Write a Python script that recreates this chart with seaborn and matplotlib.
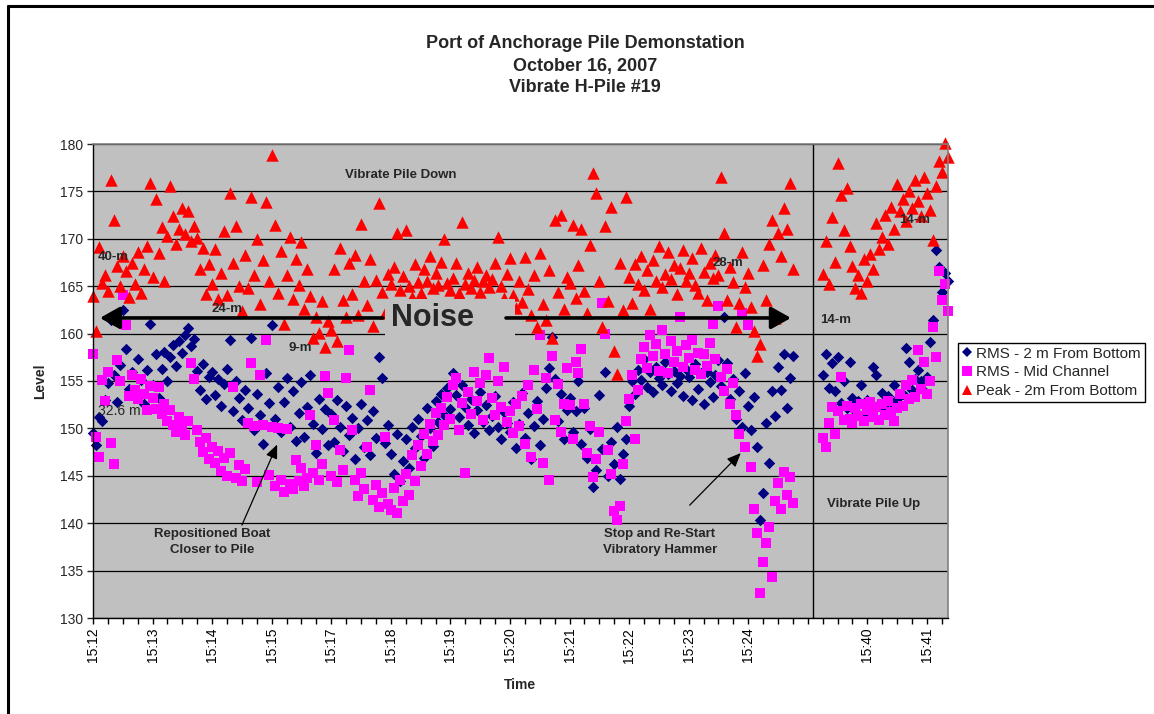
import numpy as np
import pandas as pd
import matplotlib
matplotlib.use("Agg")
import matplotlib.pyplot as plt
from matplotlib.patches import Rectangle
from matplotlib.lines import Line2D
import seaborn as sns

# ---------------------------------------------------------------------------
# Data: levels logged every 3 samples (sample index on a category-style axis)
# Main run 15:12-15:24 (pile driven down), short run 15:39-15:41 (pile pulled up)
# ---------------------------------------------------------------------------
peak_down = [
    164.0, 160.3, 169.1, 165.3, 166.2, 164.5, 176.2, 172.0, 167.1, 165.0, 168.2, 166.6, 163.9, 167.4, 165.2, 168.6, 164.3, 166.8, 169.2, 175.9,
    166.0, 174.2, 168.5, 171.2, 165.5, 170.3, 175.6, 172.4, 169.4, 171.0, 173.2, 170.5, 172.9, 169.8, 171.4, 170.1, 166.8, 169.0, 164.2, 167.3,
    165.2, 168.9, 163.6, 166.4, 170.8, 164.1, 174.8, 167.5, 171.3, 165.0, 162.4, 168.3, 164.8, 174.4, 166.2, 170.0, 163.1, 167.8, 173.9, 165.6,
    178.8, 171.5, 164.3, 168.7, 161.0, 166.2, 170.2, 163.7, 167.9, 165.1, 169.7, 162.6, 166.8, 164.0, 159.5, 161.8, 160.1, 163.4, 158.6, 161.3,
    160.4, 166.8, 159.2, 169.0, 163.5, 161.7, 167.4, 164.2, 168.3, 162.0, 171.6, 165.5, 163.0, 167.9, 160.8, 165.7, 173.8, 164.4, 162.2, 166.3,
    165.2, 167.0, 170.6, 164.6, 166.1, 170.9, 165.0, 163.9, 167.3, 165.4, 164.3, 166.8, 165.6, 168.2, 164.8, 166.4, 165.1, 167.6, 170.0, 165.3,
    164.6, 165.9, 167.5, 164.3, 171.8, 165.2, 166.4, 164.8, 165.7, 167.0, 164.4, 165.5, 166.2, 164.9, 165.8, 167.4, 170.2, 165.0, 163.8, 166.3,
    168.0, 164.1, 162.7, 165.6, 163.3, 168.1, 164.7, 162.0, 166.2, 160.7, 168.5, 163.1, 161.4, 166.7, 159.5, 172.0, 164.4, 172.5, 162.6, 166.0,
    165.3, 171.5, 163.8, 167.2, 171.0, 164.5, 162.2, 169.3, 176.9, 174.8, 165.6, 160.7, 171.4, 163.4, 173.4, 158.2, 155.7, 167.5, 162.5, 174.4,
    166.0, 163.2, 167.3, 165.2, 168.2, 164.6, 166.7, 162.6, 167.8, 165.5, 169.2, 164.9, 166.3, 168.6, 165.8, 167.2, 164.2, 166.9, 168.8, 165.6,
    166.4, 168.0, 165.1, 164.3, 169.0, 166.5, 163.5, 167.4, 165.9, 168.3, 166.2, 176.5, 170.6, 163.5, 167.0, 165.4, 160.7, 163.2, 168.6, 164.9,
    166.4, 162.8, 160.3, 157.6, 158.9, 167.2, 163.5, 169.5, 172.0, 161.6, 170.6, 168.2, 173.2, 171.0, 175.9, 166.8,
]
peak_up = [
    166.3, 169.8, 165.2, 172.3, 167.6, 178.0, 174.6, 170.9, 175.4, 169.2, 167.1, 164.8, 166.2, 164.3, 167.9, 165.5, 168.4, 166.8, 171.7, 168.9,
    170.2, 172.5, 169.5, 173.4, 171.0, 175.8, 172.9, 174.2, 171.9, 175.0, 173.3, 176.2, 174.0, 172.4, 176.5, 174.8, 173.0, 169.9, 175.6, 178.2,
    177.0, 180.1, 178.6,
]

rms_bottom_down = [
    149.5, 148.3, 151.2, 150.8, 153.0, 154.8, 161.4, 155.6, 152.8, 156.7, 162.5, 158.4, 154.2, 156.0, 153.5, 157.3, 155.1, 152.6, 156.2, 161.0,
    154.6, 157.8, 153.2, 156.3, 158.1, 155.0, 157.5, 158.8, 156.6, 159.2, 158.0, 159.8, 160.6, 158.7, 159.4, 156.1, 154.0, 156.8, 153.1, 155.4,
    156.0, 153.5, 155.2, 152.4, 154.7, 156.3, 159.3, 151.8, 155.0, 153.2, 150.9, 154.1, 152.2, 159.5, 149.8, 153.6, 151.4, 148.4, 155.8, 152.7,
    160.9, 151.0, 154.4, 149.6, 152.8, 155.3, 150.2, 153.9, 148.7, 151.6, 154.9, 149.1, 152.3, 155.6, 150.5, 147.4, 153.1, 149.9, 152.0, 148.3,
    151.5, 148.6, 153.0, 150.2, 147.6, 152.4, 149.3, 151.1, 146.8, 150.0, 152.6, 148.0, 150.9, 147.2, 151.8, 149.0, 157.5, 155.3, 148.5, 150.4,
    147.3, 145.2, 149.4, 144.4, 146.6, 148.9, 145.8, 150.2, 147.9, 151.0, 149.2, 146.9, 152.1, 150.0, 148.1, 152.9, 150.7, 153.6, 151.4, 154.3,
    152.0, 155.8, 153.5, 151.2, 154.6, 152.3, 150.4, 153.1, 149.5, 151.9, 153.8, 150.7, 152.5, 149.8, 151.3, 153.4, 150.1, 148.9, 151.7, 150.6,
    149.6, 152.8, 147.9, 150.5, 153.7, 149.0, 151.6, 146.8, 150.3, 152.9, 148.2, 151.0, 154.3, 156.4, 159.6, 155.2, 150.8, 153.6, 148.9, 151.9,
    153.2, 149.6, 151.8, 155.0, 148.4, 152.1, 146.9, 149.9, 143.8, 145.6, 153.5, 147.8, 155.9, 145.0, 148.6, 146.2, 150.2, 144.7, 147.3, 148.9,
    152.4, 155.0, 153.6, 156.2, 155.1, 157.3, 154.4, 155.9, 153.8, 156.5, 155.3, 154.6, 157.0, 155.7, 153.9, 156.1, 154.8, 155.5, 153.4, 156.3,
    155.4, 153.0, 156.8, 154.2, 155.8, 152.6, 156.0, 154.9, 153.3, 155.6, 157.2, 154.5, 161.7, 156.9, 153.1, 155.2, 151.0, 153.9, 150.2, 155.8,
    152.4, 149.8, 153.3, 148.0, 140.3, 143.2, 150.6, 146.4, 153.9, 151.3, 156.5, 154.0, 157.8, 152.2, 155.3, 157.6,
]
rms_bottom_up = [
    155.6, 157.8, 154.3, 156.9, 153.9, 157.5, 152.7, 155.0, 152.1, 157.0, 153.2, 151.8, 152.9, 154.6, 151.5, 153.0, 152.3, 156.5, 155.6, 152.6,
    153.7, 152.2, 153.4, 152.8, 154.6, 153.1, 152.5, 153.6, 158.5, 157.0, 154.1, 155.2, 156.2, 155.0, 153.9, 155.4, 159.1, 161.4, 168.8, 167.0,
    164.4, 166.4, 165.5,
]

rms_mid_down = [
    157.8, 149.1, 147.0, 155.1, 152.9, 156.0, 148.5, 146.2, 157.2, 155.0, 164.1, 160.9, 153.4, 155.6, 154.0, 153.1, 155.2, 153.6, 151.9, 154.5,
    153.2, 152.0, 154.4, 151.5, 152.6, 150.8, 151.9, 150.4, 149.6, 151.2, 150.2, 149.3, 150.8, 156.9, 155.2, 149.8, 148.6, 147.5, 149.0, 146.8,
    148.0, 146.3, 147.6, 145.5, 146.9, 145.0, 147.4, 154.4, 144.8, 146.1, 144.4, 145.7, 150.6, 156.9, 150.3, 144.3, 155.6, 150.4, 159.3, 145.1,
    150.2, 143.9, 150.0, 144.6, 143.3, 149.9, 144.1, 143.6, 146.7, 144.5, 145.8, 143.9, 144.8, 151.4, 145.3, 148.3, 144.6, 146.2, 155.5, 153.7,
    145.0, 150.9, 144.3, 147.7, 145.6, 155.3, 158.3, 149.8, 144.6, 142.9, 145.3, 143.6, 148.0, 154.1, 142.4, 144.0, 141.7, 143.2, 149.1, 142.0,
    141.4, 143.7, 141.1, 144.6, 142.3, 145.2, 143.0, 147.2, 144.5, 148.3, 146.0, 149.4, 147.3, 150.5, 148.7, 151.6, 149.3, 152.2, 150.4, 153.3,
    151.0, 154.6, 155.3, 149.8, 152.7, 145.3, 153.8, 151.5, 156.0, 152.9, 154.8, 150.9, 155.6, 157.4, 153.2, 151.4, 155.0, 152.3, 156.5, 150.7,
    151.8, 149.5, 152.6, 150.3, 153.4, 148.4, 154.6, 147.0, 156.2, 152.0, 159.8, 146.4, 155.3, 144.6, 157.6, 150.9, 154.7, 149.6, 152.6, 156.4,
    152.5, 148.9, 157.0, 155.8, 158.4, 152.6, 147.4, 150.3, 144.9, 146.8, 149.6, 163.2, 160.0, 147.7, 145.2, 141.3, 140.3, 141.8, 146.2, 150.8,
    153.1, 155.6, 148.9, 154.0, 157.3, 158.6, 156.4, 159.8, 157.6, 158.9, 156.1, 160.4, 157.9, 155.8, 159.2, 157.0, 158.2, 161.7, 156.5, 158.8,
    157.4, 159.3, 156.2, 158.0, 155.7, 157.9, 156.6, 159.0, 161.0, 157.3, 162.9, 155.4, 153.9, 156.3, 152.6, 154.8, 151.4, 149.4, 162.2, 148.0,
    160.9, 145.9, 141.5, 139.0, 132.6, 135.9, 137.9, 139.6, 134.3, 142.3, 144.2, 141.5, 145.4, 143.0, 144.9, 142.1,
]
rms_mid_up = [
    149.0, 148.0, 150.6, 152.3, 149.4, 151.8, 155.4, 150.9, 152.4, 151.0, 150.6, 152.2, 151.3, 152.6, 150.8, 151.9, 152.8, 151.2, 152.3, 150.9,
    152.6, 151.4, 152.9, 151.7, 150.8, 152.2, 153.6, 152.4, 154.6, 153.1, 155.1, 153.3, 158.3, 154.2, 157.0, 153.6, 155.0, 160.7, 157.5, 166.6,
    163.5, 165.2, 162.4,
]

# Sample indices of the two logging runs and the axis category labels
down_samples = np.arange(0, 706, 3)
up_samples = np.arange(735, 862, 3)
tick_samples = list(range(0, 861, 15))
time_labels = ["15:12", "15:13", "15:14", "15:15", "15:17", "15:18", "15:19",
               "15:20", "15:21", "15:22", "15:23", "15:24", "", "15:40", "15:41"]
series_names = ["RMS - 2 m From Bottom", "RMS - Mid Channel", "Peak - 2m From Bottom"]


def frame(down, up):
    return pd.DataFrame({
        "sample": np.concatenate([down_samples, up_samples]),
        "level": np.concatenate([down, up]),
    })


df_bottom = frame(rms_bottom_down, rms_bottom_up)
df_mid = frame(rms_mid_down, rms_mid_up)
df_peak = frame(peak_down, peak_up)

# ---------------------------------------------------------------------------
sns.set_style("white")
plt.rcParams["font.family"] = ["Liberation Sans", "DejaVu Sans"]

W, H = 1154, 714
fig = plt.figure(figsize=(W / 100, H / 100), dpi=100)
fig.patch.set_facecolor("white")
ax = fig.add_axes([93 / W, 96 / H, 855 / W, 474 / H])
ax.set_facecolor("#C0C0C0")

NAVY, MAGENTA, RED = "#000080", "#FF00FF", "#FF0000"

sns.scatterplot(data=df_bottom, x="sample", y="level", ax=ax, color=NAVY, marker="D",
                s=34, linewidth=0, clip_on=False, zorder=2, legend=False)
sns.scatterplot(data=df_mid, x="sample", y="level", ax=ax, color=MAGENTA, marker="s",
                s=60, linewidth=0, clip_on=False, zorder=2.1, legend=False)
sns.scatterplot(data=df_peak, x="sample", y="level", ax=ax, color=RED, marker="^",
                s=80, linewidth=0, clip_on=False, zorder=2.2, legend=False)

# Axes
ax.set_xlim(0, 861.2)
ax.set_ylim(130, 180)
ax.set_yticks(np.arange(130, 181, 5))
ax.set_xticks(tick_samples)
ax.set_xticklabels([time_labels[i // 4] if i % 4 == 0 else "" for i in range(len(tick_samples))])
ax.tick_params(axis="x", labelrotation=90, length=4, width=1, pad=3, labelsize=10,
               direction="out", bottom=True, colors="black")
ax.tick_params(axis="y", length=4, width=1, pad=3, labelsize=10, direction="out", left=True)
ax.set_xlabel("")
ax.set_ylabel("")
ax.yaxis.grid(True, color="black", linewidth=0.9)
ax.xaxis.grid(False)
ax.set_axisbelow(True)
for side in ("left", "bottom"):
    ax.spines[side].set_color("black")
    ax.spines[side].set_linewidth(1.0)
for side in ("top", "right"):
    ax.spines[side].set_color("#808080")
    ax.spines[side].set_linewidth(1.2)

# Split between the down and up runs
ax.axvline(725, color="black", linewidth=1.0, zorder=1.5)

# "Noise" label with its own grey box over the data
ax.add_patch(Rectangle((294, 158.0), 131, 5.7, facecolor="#C0C0C0", edgecolor="none", zorder=3))
ax.text(341.5, 161.6, "Noise", ha="center", va="center", fontsize=22, fontweight="bold", zorder=5)
big_arrow = dict(arrowstyle="-|>,head_length=0.8,head_width=0.45", lw=2.6, color="black",
                 mutation_scale=15, shrinkA=0, shrinkB=0)
ax.annotate("", xy=(7, 161.65), xytext=(292, 161.65), arrowprops=big_arrow, zorder=4)
ax.annotate("", xy=(703, 161.65), xytext=(416, 161.65), arrowprops=big_arrow, zorder=4)

# Distance and phase labels
lab = dict(fontsize=9.5, fontweight="bold", zorder=5, va="center")
ax.text(310, 176.7, "Vibrate Pile Down", ha="center", **lab)
ax.text(5, 168.1, "40-m", ha="left", **lab)
ax.text(135, 162.6, "24-m", ha="center", **lab)
ax.text(209, 158.5, "9-m", ha="center", **lab)
ax.text(27, 151.8, "32.6 m", ha="center", fontsize=10, va="center", zorder=5)
ax.text(639, 167.4, "28-m", ha="center", **lab)
ax.text(828, 172.0, "14-m", ha="center", **lab)
ax.text(748, 161.4, "14-m", ha="center", **lab)
ax.text(786, 142.0, "Vibrate Pile Up", ha="center", **lab)

small_arrow = dict(arrowstyle="-|>,head_length=0.7,head_width=0.3", lw=0.9, color="black",
                   mutation_scale=12, shrinkA=0, shrinkB=0)
ax.text(120, 138.0, "Repositioned Boat\nCloser to Pile", ha="center", va="center",
        fontsize=9.5, fontweight="bold", linespacing=1.5, zorder=5)
ax.annotate("", xy=(185.5, 148.3), xytext=(150, 139.8), arrowprops=small_arrow, zorder=4)
ax.text(571, 138.0, "Stop and Re-Start\nVibratory Hammer", ha="center", va="center",
        fontsize=9.5, fontweight="bold", linespacing=1.5, zorder=5)
ax.annotate("", xy=(652.5, 147.4), xytext=(601, 141.9), arrowprops=small_arrow, zorder=4)

# Titles and axis names
for i, line in enumerate(["Port of Anchorage Pile Demonstation", "October 16, 2007", "Vibrate H-Pile #19"]):
    fig.text(585 / W, 1 - (44 + 22 * i) / H, line, ha="center", va="center",
             fontsize=13, fontweight="bold")
fig.text(40 / W, 1 - 381 / H, "Level", rotation=90, ha="center", va="center",
         fontsize=10, fontweight="bold")
fig.text(520 / W, 1 - 685 / H, "Time", ha="center", va="center", fontsize=10, fontweight="bold")

# Legend
handles = [
    Line2D([], [], linestyle="none", marker="D", markersize=5.5, color=NAVY, markeredgewidth=0),
    Line2D([], [], linestyle="none", marker="s", markersize=7.5, color=MAGENTA, markeredgewidth=0),
    Line2D([], [], linestyle="none", marker="^", markersize=7.5, color=RED, markeredgewidth=0),
]
leg = fig.legend(handles, series_names, loc="upper left", bbox_to_anchor=(958 / W, 1 - 343 / H),
                 bbox_transform=fig.transFigure, fontsize=11, frameon=True, fancybox=False,
                 borderaxespad=0, borderpad=0.25, labelspacing=0.3, handlelength=0.7,
                 handletextpad=0.25, framealpha=1)
leg.get_frame().set_edgecolor("black")
leg.get_frame().set_linewidth(1.0)

# Outer chart border (left and top edges)
fig.add_artist(Line2D([8 / W, 8 / W], [0, 1 - 6 / H], color="black", linewidth=2.2,
                      transform=fig.transFigure))
fig.add_artist(Line2D([8 / W, 1], [1 - 6 / H, 1 - 6 / H], color="black", linewidth=2.2,
                      transform=fig.transFigure))

fig.savefig("out.png", dpi=100, facecolor="white")
